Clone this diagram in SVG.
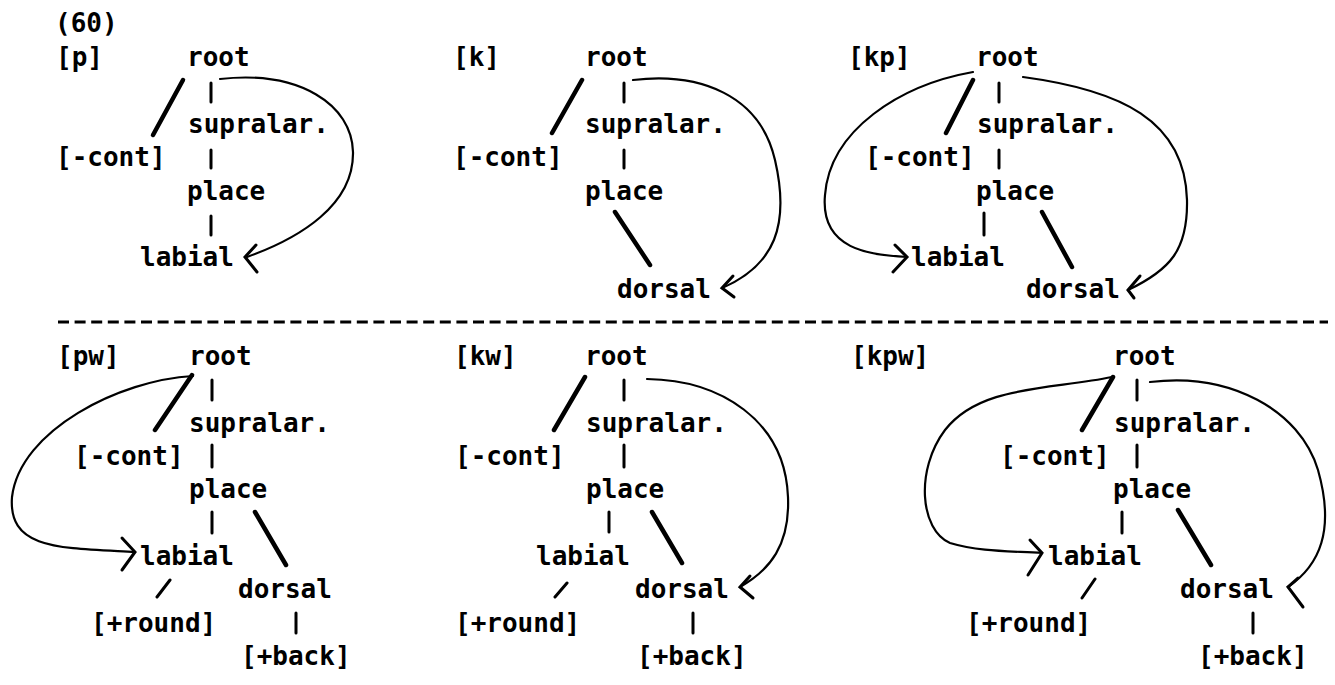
<svg xmlns="http://www.w3.org/2000/svg" width="1335" height="685" viewBox="0 0 1335 685">
<style>
.t{font-family:"DejaVu Sans Mono","Liberation Mono",monospace;font-size:26px;font-weight:bold;fill:#000}
.e{stroke:#000;stroke-width:3;stroke-linecap:round;fill:none}
.h{stroke:#000;stroke-width:4.5;stroke-linecap:round;fill:none}
.c{stroke:#000;stroke-width:2.2;stroke-linecap:round;stroke-linejoin:round;fill:none}
.a{stroke:#000;stroke-width:3;stroke-linecap:round;stroke-linejoin:miter;fill:none}
.d{stroke:#000;stroke-width:3.2;fill:none;stroke-dasharray:11 5.6}
</style>
<rect width="1335" height="685" fill="#fff"/>
<g id="n60"><text class="t" x="55" y="32">(60)</text></g>
<!-- panel p -->
<g id="p-label"><text class="t" x="56" y="66">[p]</text></g>
<g id="p-root"><text class="t" x="187" y="66">root</text></g>
<g id="p-supra"><text class="t" x="188" y="133">supralar.</text></g>
<g id="p-cont"><text class="t" x="56" y="166">[-cont]</text></g>
<g id="p-place"><text class="t" x="187" y="200">place</text></g>
<g id="p-labial"><text class="t" x="140" y="266">labial</text></g>
<!-- panel k -->
<g id="k-label"><text class="t" x="453" y="66">[k]</text></g>
<g id="k-root"><text class="t" x="585" y="66">root</text></g>
<g id="k-supra"><text class="t" x="585" y="133">supralar.</text></g>
<g id="k-cont"><text class="t" x="453" y="166">[-cont]</text></g>
<g id="k-place"><text class="t" x="585" y="200">place</text></g>
<g id="k-dorsal"><text class="t" x="617" y="298">dorsal</text></g>
<!-- panel kp -->
<g id="kp-label"><text class="t" x="848" y="66">[kp]</text></g>
<g id="kp-root"><text class="t" x="976" y="66">root</text></g>
<g id="kp-supra"><text class="t" x="977" y="133">supralar.</text></g>
<g id="kp-cont"><text class="t" x="865" y="166">[-cont]</text></g>
<g id="kp-place"><text class="t" x="976" y="200">place</text></g>
<g id="kp-labial"><text class="t" x="911" y="266">labial</text></g>
<g id="kp-dorsal"><text class="t" x="1026" y="298">dorsal</text></g>
<!-- panel pw -->
<g id="pw-label"><text class="t" x="57" y="365">[pw]</text></g>
<g id="pw-root"><text class="t" x="189" y="365">root</text></g>
<g id="pw-supra"><text class="t" x="189" y="432">supralar.</text></g>
<g id="pw-cont"><text class="t" x="74" y="465">[-cont]</text></g>
<g id="pw-place"><text class="t" x="189" y="498">place</text></g>
<g id="pw-labial"><text class="t" x="140" y="565">labial</text></g>
<g id="pw-dorsal"><text class="t" x="238" y="598">dorsal</text></g>
<g id="pw-round"><text class="t" x="91" y="632">[+round]</text></g>
<g id="pw-back"><text class="t" x="241" y="665">[+back]</text></g>
<!-- panel kw -->
<g id="kw-label"><text class="t" x="454" y="365">[kw]</text></g>
<g id="kw-root"><text class="t" x="585" y="365">root</text></g>
<g id="kw-supra"><text class="t" x="586" y="432">supralar.</text></g>
<g id="kw-cont"><text class="t" x="455" y="465">[-cont]</text></g>
<g id="kw-place"><text class="t" x="586" y="498">place</text></g>
<g id="kw-labial"><text class="t" x="536" y="565">labial</text></g>
<g id="kw-dorsal"><text class="t" x="635" y="598">dorsal</text></g>
<g id="kw-round"><text class="t" x="455" y="632">[+round]</text></g>
<g id="kw-back"><text class="t" x="637" y="665">[+back]</text></g>
<!-- panel kpw -->
<g id="kpw-label"><text class="t" x="851" y="365">[kpw]</text></g>
<g id="kpw-root"><text class="t" x="1113" y="365">root</text></g>
<g id="kpw-supra"><text class="t" x="1114" y="432">supralar.</text></g>
<g id="kpw-cont"><text class="t" x="1000" y="465">[-cont]</text></g>
<g id="kpw-place"><text class="t" x="1113" y="498">place</text></g>
<g id="kpw-labial"><text class="t" x="1048" y="565">labial</text></g>
<g id="kpw-dorsal"><text class="t" x="1180" y="598">dorsal</text></g>
<g id="kpw-round"><text class="t" x="966" y="632">[+round]</text></g>
<g id="kpw-back"><text class="t" x="1198" y="665">[+back]</text></g>

<g id="connectors">
<path class="d" d="M58,322 H1328"/>
<!-- p -->
<path class="e" d="M211,83V102M211,150V168M211,216V235"/>
<path class="h" d="M183,80L153,135"/>
<path class="c" d="M220,79 C300,70 352,105 353,152 C354,205 300,238 247,257"/>
<polyline class="a" points="256,245 245,257 257,272"/>
<!-- k -->
<path class="e" d="M624,83V102M624,150V168"/>
<path class="h" d="M582,80L552,133M615,212L650,265"/>
<path class="c" d="M633,80 C700,72 760,95 775,160 C790,225 775,265 722,288"/>
<polyline class="a" points="733,276 722,288 734,297"/>
<!-- kp -->
<path class="e" d="M999,83V102M999,150V168M984,213V235"/>
<path class="h" d="M973,80L946,133M1042,212L1072,267"/>
<path class="c" d="M973,72 C900,85 830,130 825,195 C820,250 870,255 907,257"/>
<polyline class="a" points="895,245 907,257 893,272"/>
<path class="c" d="M1023,77 C1120,90 1185,120 1187,200 C1188,250 1170,270 1128,290"/>
<polyline class="a" points="1140,276 1128,290 1134,298"/>
<!-- pw -->
<path class="e" d="M212,380V400M212,445V467M212,512V533M296,613V633M170,580L157,597"/>
<path class="h" d="M192,375L155,430M255,512L286,565"/>
<path class="c" d="M193,376 C120,380 20,430 12,497 C8,550 60,548 135,552"/>
<polyline class="a" points="122,538 135,552 122,570"/>
<!-- kw -->
<path class="e" d="M624,380V400M624,445V467M609,512V532M693,613V633M567,583L555,597"/>
<path class="h" d="M585,377L554,430M652,512L682,563"/>
<path class="c" d="M647,379 C720,380 785,420 788,497 C790,545 770,570 740,587"/>
<polyline class="a" points="750,576 740,587 753,598"/>
<!-- kpw -->
<path class="e" d="M1137,380V400M1137,445V467M1122,512V533M1253,613V633M1095,579L1082,598"/>
<path class="h" d="M1113,377L1082,430M1178,510L1211,565"/>
<path class="c" d="M1112,377 C1050,390 980,385 945,430 C915,470 920,530 950,543 C980,552 1010,551 1042,553"/>
<polyline class="a" points="1030,540 1042,553 1028,575"/>
<path class="c" d="M1150,382 C1230,372 1300,410 1318,470 C1335,530 1320,565 1288,587"/>
<polyline class="a" points="1298,578 1288,587 1303,607"/>
</g>
</svg>
